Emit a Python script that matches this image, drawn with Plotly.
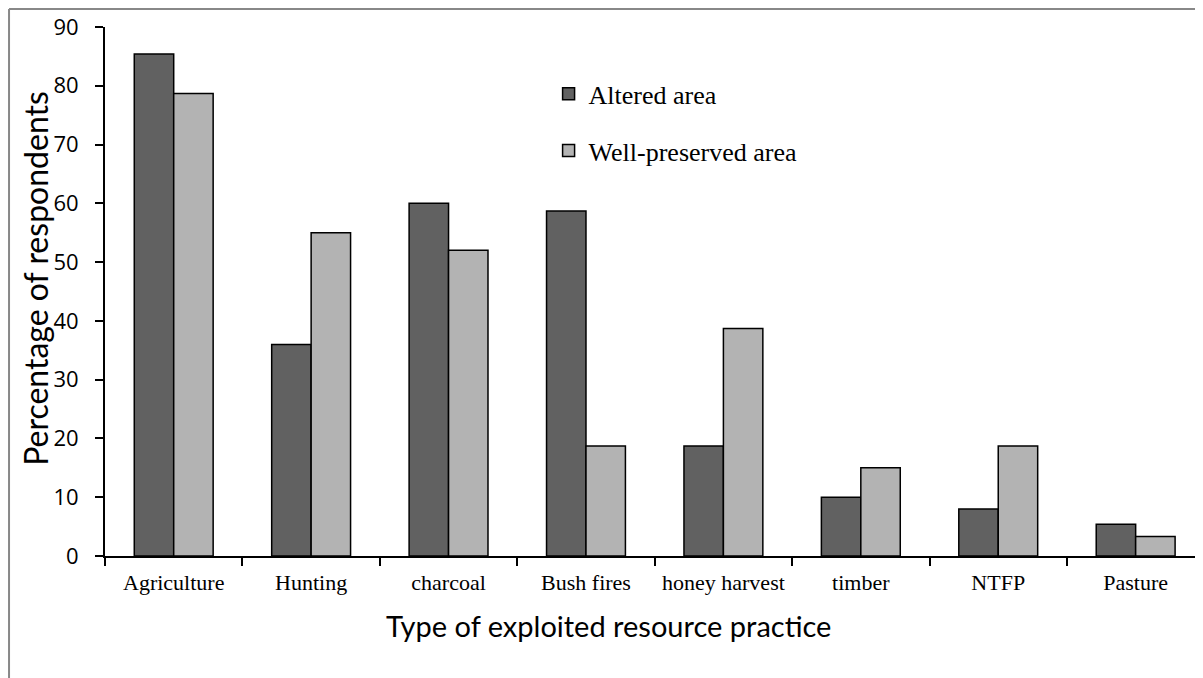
import plotly.graph_objects as go

categories = ["Agriculture", "Hunting", "charcoal", "Bush fires", "honey harvest", "timber", "NTFP", "Pasture"]
altered = [85.4, 36.0, 60.0, 58.7, 18.7, 10.0, 8.0, 5.4]
preserved = [78.7, 55.0, 52.0, 18.7, 38.7, 15.0, 18.7, 3.3]
y_ticks = [0, 10, 20, 30, 40, 50, 60, 70, 80, 90]

fig = go.Figure()
fig.add_trace(go.Bar(x=categories, y=altered, name="Altered area",
                     marker=dict(color="#616161", line=dict(color="black", width=1.5)),
                     legendgroup="a"))
fig.add_trace(go.Bar(x=categories, y=preserved, name="Well-preserved area",
                     marker=dict(color="#b3b3b3", line=dict(color="black", width=1.5)),
                     legendgroup="b"))

fig.update_layout(
    width=1195, height=670,
    margin=dict(l=97, r=0, t=19, b=122, autoexpand=False),
    paper_bgcolor="white", plot_bgcolor="white",
    barmode="group", bargap=0.426, bargroupgap=0,
    showlegend=True,
    legend=dict(x=0.404, y=0.918, xanchor="left", yanchor="top",
                font=dict(family="Liberation Serif", size=26, color="black"),
                tracegroupgap=20, bgcolor="rgba(0,0,0,0)", itemwidth=30),
    xaxis=dict(range=[-0.5, 7.49], showline=True, linecolor="black", linewidth=2,
               ticks="outside", tickson="boundaries", ticklen=8, tickwidth=2, tickcolor="black",
               ticklabelstandoff=6,
               tickfont=dict(family="Liberation Serif", size=22, color="black"),
               showgrid=False, zeroline=False, automargin=False),
    yaxis=dict(range=[0, 90], tickvals=y_ticks, showline=True, linecolor="black", linewidth=2,
               ticks="outside", ticklen=8, tickwidth=2, tickcolor="black",
               ticklabelstandoff=12,
               tickfont=dict(family="Open Sans", size=22, color="black"),
               showgrid=False, zeroline=False, automargin=False),
    annotations=[
        dict(text="Percentage of respondents", xref="paper", yref="paper",
             x=-0.0628, y=0.524, xanchor="center", yanchor="middle", textangle=-90,
             showarrow=False, font=dict(family="Lato", size=32, color="black")),
        dict(text="Type of exploited resource practice", xref="paper", yref="paper",
             x=0.459, y=-0.095, xanchor="center", yanchor="top",
             showarrow=False, font=dict(family="Lato", size=29, color="black")),
    ],
    shapes=[
        dict(type="line", xref="paper", yref="paper", x0=-0.0874, x1=1.02, y0=1.034, y1=1.034,
             line=dict(color="#888888", width=2)),
        dict(type="line", xref="paper", yref="paper", x0=-0.0874, x1=-0.0874, y0=1.034, y1=-0.25,
             line=dict(color="#888888", width=2)),
    ],
)

fig.write_html("out.html")
